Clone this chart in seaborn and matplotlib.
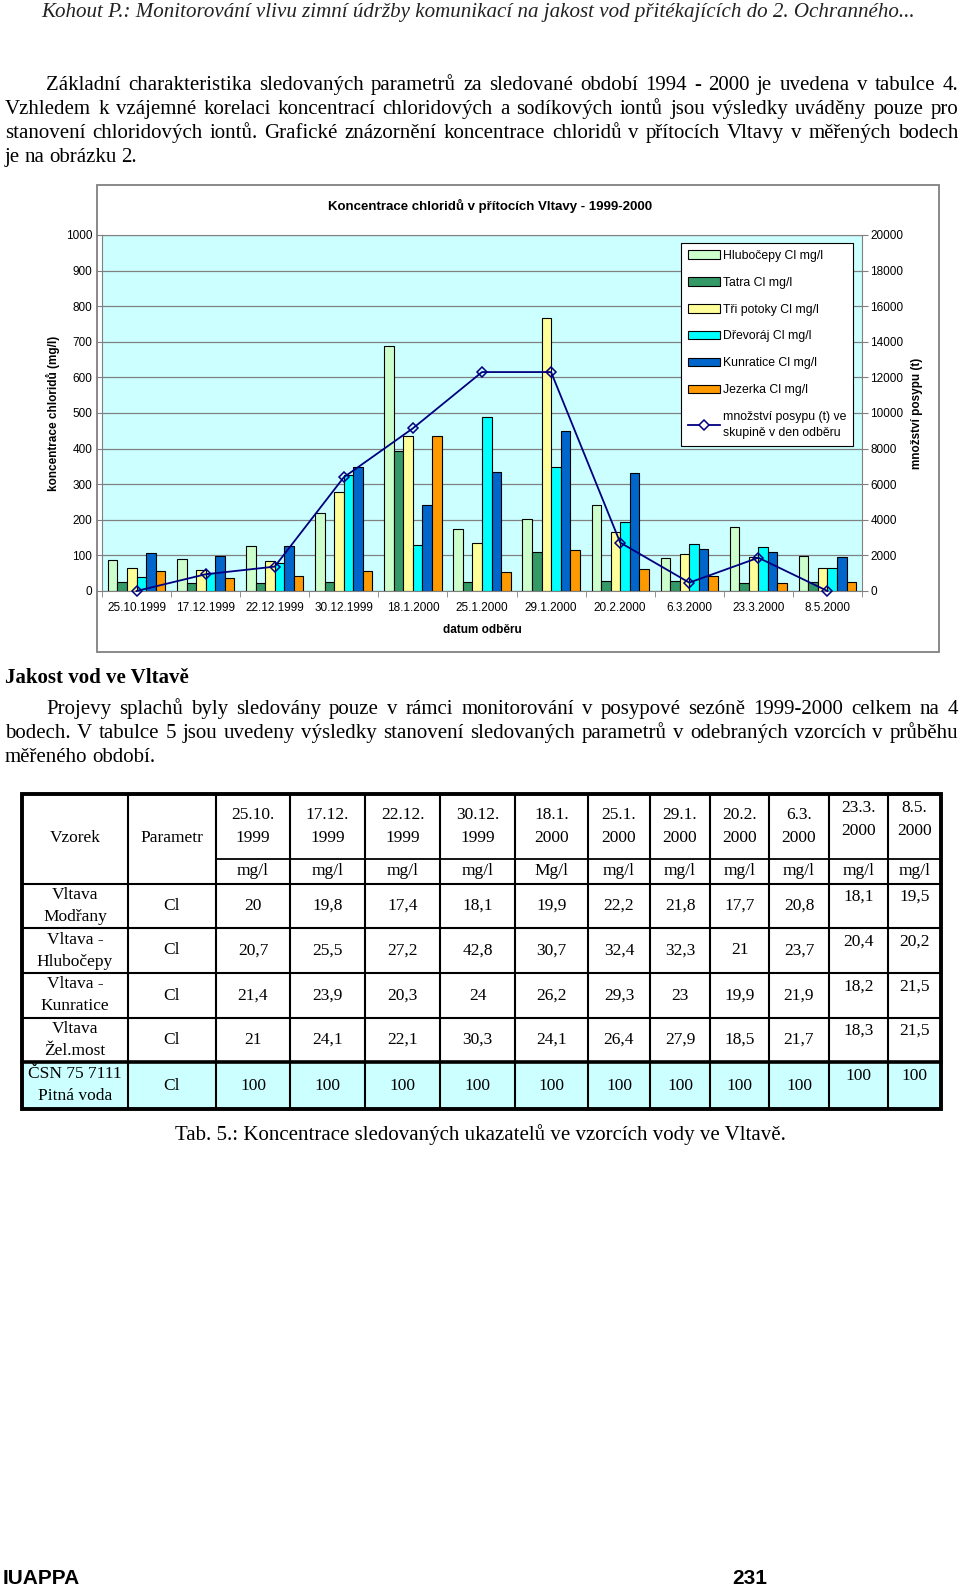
import numpy as np
import pandas as pd
import seaborn as sns
import matplotlib
matplotlib.use("Agg")
import matplotlib.pyplot as plt
from matplotlib.patches import Rectangle, Patch
from matplotlib.lines import Line2D

# data
dates = ["25.10.1999", "17.12.1999", "22.12.1999", "30.12.1999", "18.1.2000",
         "25.1.2000", "29.1.2000", "20.2.2000", "6.3.2000", "23.3.2000", "8.5.2000"]
sites = ["Hlubočepy Cl mg/l", "Tatra Cl mg/l", "Tři potoky Cl mg/l",
         "Dřevoráj Cl mg/l", "Kunratice Cl mg/l", "Jezerka Cl mg/l"]
hlubocepy = [87, 90, 127, 220, 687, 173, 201, 242, 92, 181, 99]
tatra = [24, 22, 22, 24, 392, 24, 110, 28, 28, 22, 24]
tri_potoky = [66, 59, 84, 279, 436, 134, 768, 165, 103, 96, 66]
drevoraj = [40, 51, 78, 326, 129, 489, 349, 195, 131, 123, 66]
kunratice = [106, 97, 127, 347, 242, 334, 449, 331, 118, 109, 96]
jezerka = [56, 37, 43, 56, 436, 52, 114, 63, 43, 22, 24]
posyp = [0, 940, 1370, 6390, 9140, 12300, 12300, 2720, 470, 1870, 0]
posyp_label = "množství posypu (t) ve\nskupině v den odběru"
colors = ["#CCFFCC", "#339966", "#FFFF99", "#00FFFF", "#0066CC", "#FF9900"]

# table 5
tab_day = ["25.10.", "17.12.", "22.12.", "30.12.", "18.1.", "25.1.", "29.1.",
           "20.2.", "6.3.", "23.3.", "8.5."]
tab_year = ["1999", "1999", "1999", "1999", "2000", "2000", "2000",
            "2000", "2000", "2000", "2000"]
tab_units = ["mg/l", "mg/l", "mg/l", "mg/l", "Mg/l", "mg/l", "mg/l",
             "mg/l", "mg/l", "mg/l", "mg/l"]
tab_samples = [("Vltava", "Modřany"), ("Vltava -", "Hlubočepy"),
               ("Vltava -", "Kunratice"), ("Vltava", "Žel.most"),
               ("ČSN 75 7111", "Pitná voda")]
modrany = [20, 19.8, 17.4, 18.1, 19.9, 22.2, 21.8, 17.7, 20.8, 18.1, 19.5]
hlub_vltava = [20.7, 25.5, 27.2, 42.8, 30.7, 32.4, 32.3, 21, 23.7, 20.4, 20.2]
kunr_vltava = [21.4, 23.9, 20.3, 24, 26.2, 29.3, 23, 19.9, 21.9, 18.2, 21.5]
zel_most = [21, 24.1, 22.1, 30.3, 24.1, 26.4, 27.9, 18.5, 21.7, 18.3, 21.5]
csn = [100, 100, 100, 100, 100, 100, 100, 100, 100, 100, 100]

para1 = ["Základní charakteristika sledovaných parametrů za sledované období 1994 - 2000 je  uvedena v tabulce 4.",
         "Vzhledem k vzájemné korelaci koncentrací chloridových a sodíkových iontů jsou výsledky uváděny pouze pro",
         "stanovení chloridových iontů. Grafické znázornění koncentrace chloridů v přítocích Vltavy v měřených bodech",
         "je na obrázku 2."]
para2 = ["Projevy splachů byly sledovány pouze v rámci monitorování v posypové sezóně 1999-2000 celkem na 4",
         "bodech. V tabulce 5 jsou uvedeny výsledky stanovení sledovaných parametrů v odebraných vzorcích v průběhu",
         "měřeného období."]

plt.rcParams['font.family'] = ['Liberation Sans', 'DejaVu Sans']
SERIF = ['Liberation Serif', 'DejaVu Serif']

fig = plt.figure(figsize=(9.6, 15.89), dpi=100)
page = fig.add_axes([0, 0, 1, 1], zorder=0)
page.set_xlim(0, 960)
page.set_ylim(1589, 0)
page.axis('off')
rend = fig.canvas.get_renderer()


def justify(line, x0, x1, y, size, last=False):
    # words on one baseline, spread to fill x0..x1
    words = line.split()
    ts = [page.text(0, y + 5, w, fontsize=size, family=SERIF, va='baseline') for w in words]
    ws = [t.get_window_extent(rend).width for t in ts]
    gap = 4.5 if last or len(words) < 2 else (x1 - x0 - sum(ws)) / (len(words) - 1)
    x = x0
    for t, w in zip(ts, ws):
        t.set_x(x)
        x += w + gap


def fit(s, x0, x1, y, size, **kw):
    t = page.text(x0, y, s, fontsize=size, va='center', **kw)
    w = t.get_window_extent(rend).width
    t.set_fontsize(size * (x1 - x0) / w)


fit("Kohout P.: Monitorování vlivu zimní údržby komunikací na jakost vod přitékajících do 2. Ochranného...",
    41, 917, 13, 13.5, family=SERIF, style='italic', color='#222222')

BODY = 15
for i, line in enumerate(para1):
    justify(line, 46 if i == 0 else 5, 958, 85 + i * 24, BODY, last=(i == len(para1) - 1))

page.text(5, 678, "Jakost vod ve Vltavě", fontsize=15, family=SERIF, weight='bold', va='center')
for i, line in enumerate(para2):
    justify(line, 46 if i == 0 else 5, 958, 709 + i * 24, BODY, last=(i == len(para2) - 1))

# chart
page.add_patch(Rectangle((97, 185), 842, 467, fc='white', ec='#808080', lw=1.3))
page.text(490, 206, "Koncentrace chloridů v přítocích Vltavy - 1999-2000",
          ha='center', va='center', fontsize=9.5, weight='bold')
page.text(53, 413, "koncentrace chloridů (mg/l)", rotation=90, ha='center', va='center',
          fontsize=8.5, weight='bold')
page.text(917, 413, "množství posypu (t)", rotation=90, ha='center', va='center',
          fontsize=8.5, weight='bold')
page.text(482, 630, "datum odběru", ha='center', va='center', fontsize=8.5, weight='bold')

ax = fig.add_axes([102 / 960, 1 - 591 / 1589, 760 / 960, 356 / 1589], zorder=2)
ax.set_facecolor('#CCFFFF')
wide = pd.DataFrame({"datum": dates, sites[0]: hlubocepy, sites[1]: tatra, sites[2]: tri_potoky,
                     sites[3]: drevoraj, sites[4]: kunratice, sites[5]: jezerka})
long = wide.melt(id_vars="datum", var_name="lokalita", value_name="cl")
sns.barplot(data=long, x="datum", y="cl", hue="lokalita", order=dates, hue_order=sites,
            palette=colors, width=0.83, saturation=1, edgecolor='black', linewidth=0.8,
            errorbar=None, legend=False, ax=ax)
ax.set_axisbelow(True)
ax.yaxis.grid(True, color='#808080', lw=0.9)
ax.set_ylim(0, 1000)
ax.set_yticks(range(0, 1001, 100))
ax.set_xlim(-0.5, len(dates) - 0.5)
ax.set_xticks(range(len(dates)))
ax.set_xticklabels(dates)
ax.set_xticks(np.arange(-0.5, len(dates)), minor=True)
ax.tick_params(axis='x', which='major', length=0, pad=8, labelsize=8.5)
ax.tick_params(axis='x', which='minor', length=4, color='#808080')
ax.tick_params(axis='y', length=4, pad=3, labelsize=8.5, color='#808080')
ax.set_xlabel("")
ax.set_ylabel("")
for sp in ax.spines.values():
    sp.set_color('#808080')

ax2 = ax.twinx()
ax2.set_zorder(3)
ax2.patch.set_visible(False)
sns.lineplot(x=np.arange(len(dates)), y=posyp, ax=ax2, color='#000080', lw=1.3,
             marker='D', markersize=5, markerfacecolor='none', markeredgecolor='#000080',
             markeredgewidth=1.1, clip_on=False)
ax2.set_ylim(0, 20000)
ax2.set_yticks(range(0, 20001, 2000))
ax2.set_xlim(-0.5, len(dates) - 0.5)
ax2.tick_params(axis='y', length=4, pad=2, labelsize=8.5, color='#808080')
for sp in ax2.spines.values():
    sp.set_visible(False)

handles = [Patch(fc=c, ec='black', lw=0.8) for c in colors]
handles.append(Line2D([], [], color='#000080', lw=1.3, marker='D', markersize=5,
                      markerfacecolor='white', markeredgecolor='#000080', markeredgewidth=1.1))
leg = ax2.legend(handles, sites + [posyp_label], loc='upper left',
                 bbox_to_anchor=(681 / 960, 1 - 243 / 1589), bbox_transform=fig.transFigure,
                 fancybox=False, edgecolor='black', framealpha=1, fontsize=8.8,
                 labelspacing=1.22, handlelength=2.6, handletextpad=0.3,
                 borderpad=0.55, borderaxespad=0)
leg.get_frame().set_linewidth(0.8)
leg.get_texts()[-1].set_linespacing(1.45)

# table 5
cols = [22, 128, 216, 290, 365, 440, 515, 588, 650, 710, 769, 829, 888, 941]
rows = [794, 859, 884, 928, 973, 1018, 1062, 1109]
page.add_patch(Rectangle((cols[0], rows[6]), cols[-1] - cols[0], rows[7] - rows[6],
                         fc='#CCFFFF', ec='none'))
for x in cols[1:-1]:
    page.plot([x, x], [rows[0], rows[-1]], color='black', lw=1.5)
page.plot([cols[2], cols[-1]], [rows[1], rows[1]], color='black', lw=1.3)
for y in rows[2:6]:
    page.plot([cols[0], cols[-1]], [y, y], color='black', lw=1.5)
page.plot([cols[0], cols[-1]], [rows[6], rows[6]], color='black', lw=2.6)
page.add_patch(Rectangle((cols[0], rows[0]), cols[-1] - cols[0], rows[-1] - rows[0],
                         fc='none', ec='black', lw=2.8))

tkw = dict(family=SERIF, fontsize=12.5, ha='center', va='center')
page.text((cols[0] + cols[1]) / 2, 838, "Vzorek", **tkw)
page.text((cols[1] + cols[2]) / 2, 838, "Parametr", **tkw)
values = [modrany, hlub_vltava, kunr_vltava, zel_most, csn]
for j in range(len(tab_day)):
    cx = (cols[j + 2] + cols[j + 3]) / 2
    up = 7 if j >= 9 else 0
    page.text(cx, 815 - up, tab_day[j], **tkw)
    page.text(cx, 838 - up, tab_year[j], **tkw)
    page.text(cx, 871, tab_units[j], **tkw)
for i, (a, b) in enumerate(tab_samples):
    cy = (rows[i + 2] + rows[i + 3]) / 2
    page.text((cols[0] + cols[1]) / 2, cy - 11, a, **tkw)
    page.text((cols[0] + cols[1]) / 2, cy + 11, b, **tkw)
    page.text((cols[1] + cols[2]) / 2, cy, "Cl", **tkw)
    for j, v in enumerate(values[i]):
        cx = (cols[j + 2] + cols[j + 3]) / 2
        up = 9 if j >= 9 else 0
        page.text(cx, cy - up, f"{v:g}".replace('.', ','), **tkw)

page.text(175, 1135, "Tab. 5.: Koncentrace sledovaných ukazatelů ve vzorcích vody ve Vltavě.",
          family=SERIF, fontsize=BODY, va='center')

page.text(3, 1578, "IUAPPA", fontsize=15, weight='bold', va='center')
page.text(732, 1578, "231", fontsize=15, weight='bold', va='center')

fig.savefig("out.png", dpi=100)
